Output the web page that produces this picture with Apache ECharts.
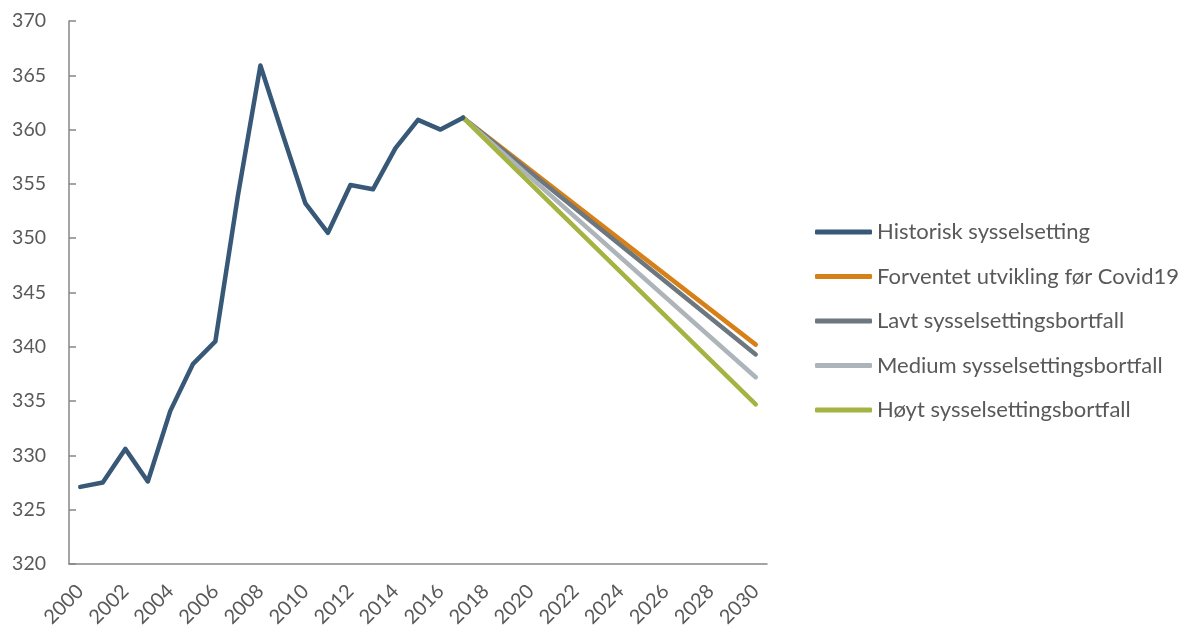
<!DOCTYPE html>
<html>
<head>
<meta charset="utf-8">
<script src="https://cdn.jsdelivr.net/npm/echarts@6/dist/echarts.min.js"></script>
<style>
html,body{margin:0;padding:0;background:#fff;}
#chart{width:1184px;height:632px;}
</style>
</head>
<body>
<div id="chart"></div>
<script>
const years = ['2000','2001','2002','2003','2004','2005','2006','2007','2008','2009','2010','2011','2012','2013','2014','2015','2016','2017','2018','2019','2020','2021','2022','2023','2024','2025','2026','2027','2028','2029','2030'];
const seriesNames = ['Historisk sysselsetting','Forventet utvikling før Covid19','Lavt sysselsettingsbortfall','Medium sysselsettingsbortfall','Høyt sysselsettingsbortfall'];
const historisk = [327.1,327.5,330.6,327.6,334.1,338.4,340.5,353.9,365.9,359.5,353.2,350.5,354.9,354.5,358.3,360.9,360.0,361.1,null,null,null,null,null,null,null,null,null,null,null,null,null];
// projections: start in 2017, end in 2030 (drawn as straight segments)
const forventet = [null,null,null,null,null,null,null,null,null,null,null,null,null,null,null,null,null,361.1,null,null,null,null,null,null,null,null,null,null,null,null,340.2];
const lavt      = [null,null,null,null,null,null,null,null,null,null,null,null,null,null,null,null,null,361.1,null,null,null,null,null,null,null,null,null,null,null,null,339.3];
const medium    = [null,null,null,null,null,null,null,null,null,null,null,null,null,null,null,null,null,361.1,null,null,null,null,null,null,null,null,null,null,null,null,337.2];
const hoyt      = [null,null,null,null,null,null,null,null,null,null,null,null,null,null,null,null,null,361.1,null,null,null,null,null,null,null,null,null,null,null,null,334.7];
const colors = ['#375877','#D88018','#6D7780','#ADB4BA','#A5B343'];

const chart = echarts.init(document.getElementById('chart'));
const font = 'Lato, "Open Sans", sans-serif';
function line(name, data, color, z) {
  return {
    name: name, type: 'line', data: data, connectNulls: true,
    showSymbol: false, symbol: 'none', z: z,
    lineStyle: {color: color, width: 4.5, cap: 'round', join: 'round'},
    itemStyle: {color: color},
    emphasis: {disabled: true}
  };
}
chart.setOption({
  animation: false,
  textStyle: {fontFamily: font},
  grid: {left: 69, right: 417, top: 21, bottom: 68, containLabel: false},
  legend: {
    orient: 'vertical', left: 815, top: 221, padding: 0,
    itemWidth: 57, itemHeight: 5, itemGap: 22.5,
    icon: 'roundRect',
    textStyle: {fontFamily: font, fontSize: 22, color: '#595959', lineHeight: 22},
    data: seriesNames
  },
  xAxis: {
    type: 'category', data: years, boundaryGap: true,
    axisLine: {lineStyle: {color: '#868686', width: 1.5}},
    axisTick: {inside: true, length: 7, interval: 0, lineStyle: {color: '#868686', width: 1.5}},
    axisLabel: {interval: 1, rotate: 45, margin: 24, fontFamily: font, fontSize: 20, color: '#595959'},
    splitLine: {show: false}
  },
  yAxis: {
    type: 'value', min: 320, max: 370, interval: 5,
    axisLine: {show: true, lineStyle: {color: '#868686', width: 1.5}},
    axisTick: {show: true, inside: true, length: 7, lineStyle: {color: '#868686', width: 1.5}},
    axisLabel: {margin: 23, fontFamily: font, fontSize: 19.5, color: '#595959'},
    splitLine: {show: false}
  },
  series: [
    line(seriesNames[0], historisk, colors[0], 6),
    line(seriesNames[1], forventet, colors[1], 2),
    line(seriesNames[2], lavt, colors[2], 3),
    line(seriesNames[3], medium, colors[3], 4),
    line(seriesNames[4], hoyt, colors[4], 5)
  ]
});
</script>
</body>
</html>
